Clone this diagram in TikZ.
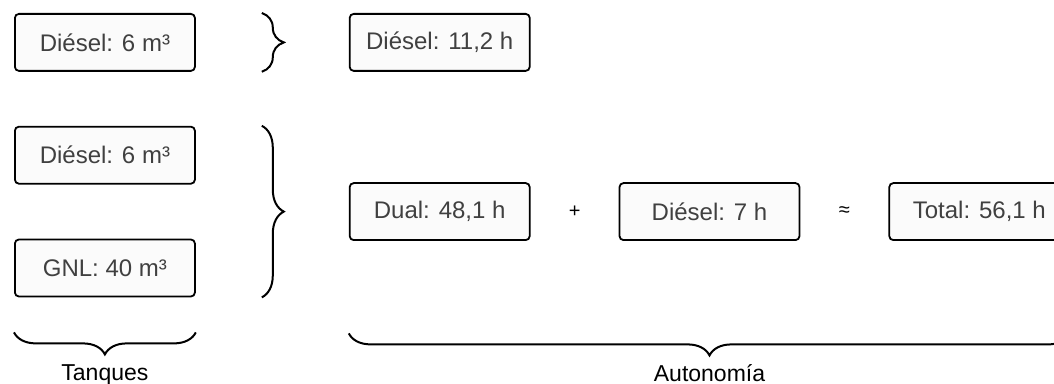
\documentclass[tikz,border=0pt]{standalone}
\usepackage{fontspec}
\setmainfont{Liberation Sans}
\usetikzlibrary{positioning,calc,decorations.pathreplacing}
\tikzset{
  box/.style={draw, rounded corners=2pt, align=center, minimum width=90pt, minimum height=28.5pt, inner sep=2pt, line width=0.9pt, fill=gray!3, text=black!75, font=\fontsize{12}{14}\selectfont},
  tank/.style={box},
  hours/.style={box},
  curly/.style={decorate, decoration={brace, amplitude=11pt}, line width=1pt},
  op/.style={font=\fontsize{10}{12}\selectfont},
  grouptext/.style={font=\fontsize{11.5}{13}\selectfont},
}

\begin{document}
\begin{tikzpicture}[node distance=27pt and 76.5pt]
  \useasboundingbox (0,0) rectangle (527pt,-192pt);

  % Tanks
  \node[tank, anchor=north west] (dieselTop) at (7pt,-6.5pt) {Diésel: 6 m³};
  \node[tank, below=of dieselTop] (dieselMix) {Diésel: 6 m³};
  \node[tank, below=of dieselMix] (gnl) {GNL: 40 m³};

  % Autonomy
  \node[hours, right=of dieselTop] (autDiesel) {Diésel: 11,2 h};
  \coordinate (mix) at ($(dieselMix.east)!0.5!(gnl.east)$);
  \node[hours, right=of mix] (autDual) {Dual: 48,1 h};
  \node[hours, right=44pt of autDual] (autRest) {Diésel: 7 h};
  \node[hours, right=44pt of autRest] (autTotal) {Total: 56,1 h};
  \node[op] (plus) at ($(autDual.east)!0.5!(autRest.west)$) {+};
  \node[op] (approx) at ($(autRest.east)!0.5!(autTotal.west)$) {≈};

  % Braces
  \draw[curly] ([xshift=33pt]dieselTop.north east) -- ([xshift=33pt]dieselTop.south east);
  \draw[curly] ([xshift=33pt]dieselMix.north east) -- ([xshift=33pt]gnl.south east);
  \draw[curly] ([yshift=-17.5pt]gnl.south east) -- ([yshift=-17.5pt]gnl.south west)
    node[grouptext, midway, yshift=-21.5pt] (tanques) {Tanques};
  \draw[curly] ($(autTotal.east |- gnl.south)+(0,-18pt)$) -- ($(autDual.west |- gnl.south)+(0,-18pt)$)
    node[grouptext, midway, yshift=-20pt] (autonomia) {Autonomía};
\end{tikzpicture}
\end{document}
